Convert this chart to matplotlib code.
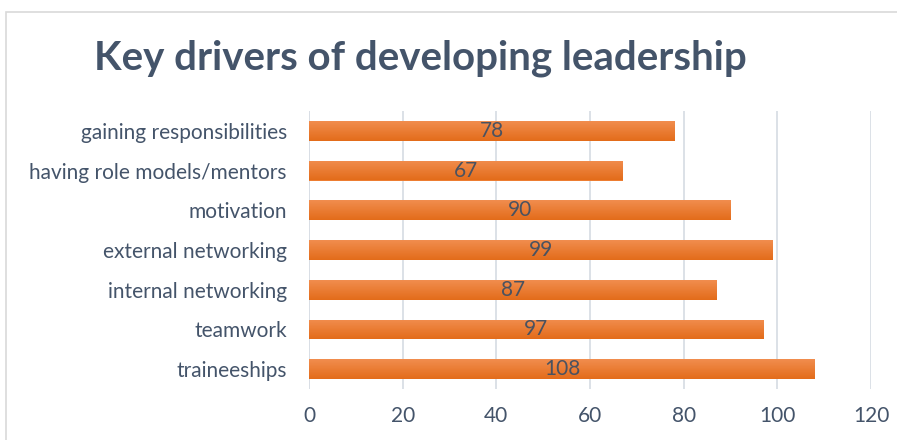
import matplotlib
matplotlib.use("Agg")
import matplotlib.pyplot as plt
import numpy as np
from matplotlib.patches import Rectangle

categories = ["gaining responsibilities", "having role models/mentors", "motivation",
              "external networking", "internal networking", "teamwork", "traineeships"]
values = [78, 67, 90, 99, 87, 97, 108]
x_ticks = [0, 20, 40, 60, 80, 100, 120]

plt.rcParams['font.family'] = ['Lato', 'DejaVu Sans']
text_col = "#44546A"
label_col = "#4A5260"

fig = plt.figure(figsize=(8.97, 4.4), dpi=100)
# chart border (cropped at right and bottom)
fig.patches.append(Rectangle((6 / 897, -0.1), 1.0, 1 - 12 / 440 + 0.1,
                             transform=fig.transFigure, fill=False,
                             edgecolor="#D9D9D9", linewidth=1.2))

ax = fig.add_axes([309 / 897, 51 / 440, 562 / 897, 278 / 440])
y = np.arange(len(categories))[::-1]
bars = ax.barh(y, values, height=0.5, color="#ED7D31", zorder=2)

# vertical gradient on each bar: darker at bottom, lighter on top
grad = np.linspace(0, 1, 50).reshape(-1, 1)
cmap = matplotlib.colors.LinearSegmentedColormap.from_list("g", ["#E36C1A", "#F18D4E"])
for b in bars:
    x0, y0, w, h = b.get_x(), b.get_y(), b.get_width(), b.get_height()
    im = ax.imshow(grad, extent=[x0, x0 + w, y0, y0 + h], aspect="auto",
                   cmap=cmap, zorder=3, origin="lower")
    im.set_clip_path(b)

for yi, v in zip(y, values):
    ax.text(v / 2, yi, str(v), ha="center", va="center", fontsize=15,
            color=label_col, zorder=4)

ax.set_xlim(0, 120)
ax.set_ylim(-0.5, len(categories) - 0.5)
ax.set_xticks(x_ticks)
ax.set_yticks(y)
ax.set_yticklabels(categories)
ax.tick_params(axis="y", length=0, pad=16, labelsize=15, labelcolor=text_col)
ax.tick_params(axis="x", length=0, pad=12, labelsize=15, labelcolor=text_col)
ax.grid(axis="x", color="#D9DEE5", linewidth=1.3, zorder=0)
for s in ax.spines.values():
    s.set_visible(False)
ax.axvline(0, color="#D9DEE5", linewidth=1.3, zorder=1)

fig.text(420 / 897, 1 - 58 / 440, "Key drivers of developing leadership",
         ha="center", va="center", fontsize=29, fontweight="bold", color=text_col)

fig.savefig("out.png", dpi=100)
